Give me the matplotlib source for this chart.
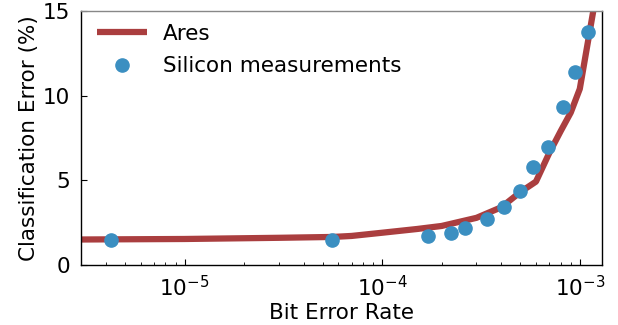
import matplotlib
matplotlib.use('Agg')
import matplotlib.pyplot as plt

'''Classification error vs bit error rate: Ares model curve and silicon measurements.'''

# ------------ data ---------------

ares_ber = [3.0e-6, 1.0e-5, 3.0e-5, 5.6e-5, 7.0e-5, 1.0e-4, 1.5e-4, 2.0e-4,
            3.0e-4, 4.0e-4, 5.0e-4, 6.0e-4, 7.0e-4, 8.0e-4, 9.0e-4, 1.0e-3,
            1.17e-3, 1.2e-3]
ares_err = [1.50, 1.53, 1.60, 1.65, 1.71, 1.90, 2.12, 2.30,
            2.78, 3.40, 4.30, 4.92, 6.60, 7.90, 9.00, 10.40,
            15.0, 15.9]

silicon_ber = [4.24e-6, 5.59e-5, 1.70e-4, 2.24e-4, 2.61e-4, 3.39e-4, 4.15e-4,
               4.96e-4, 5.83e-4, 6.92e-4, 8.18e-4, 9.43e-4, 1.106e-3]
silicon_err = [1.49, 1.49, 1.73, 1.91, 2.19, 2.73, 3.43,
               4.35, 5.81, 6.99, 9.31, 11.42, 13.74]

y_ticks = [0, 5, 10, 15]

ARES_RED = '#aa3e3f'
SILICON_BLUE = '#3b8fc1'
FS = 15.5


# ----------------- plot --------------------

plt.rcParams['font.family'] = 'DejaVu Sans'
plt.rcParams['font.size'] = FS

fig = plt.figure(figsize=(6.18, 3.25), dpi=100)
ax = fig.add_axes([0.1316, 0.185, 0.843, 0.781])

ax.plot(ares_ber, ares_err, color=ARES_RED, linewidth=4.5,
        solid_capstyle='butt', label='Ares', zorder=2)
ax.plot(silicon_ber, silicon_err, linestyle='none', marker='o',
        markersize=9.5, color=SILICON_BLUE, label='Silicon measurements', zorder=3)

ax.set_xscale('log')
ax.set_xlim(3.0e-6, 1.3e-3)
ax.set_ylim(0, 15)
ax.set_yticks(y_ticks)

ax.set_xlabel('Bit Error Rate', fontsize=FS, labelpad=2)
ax.set_ylabel('Classification Error (%)', fontsize=FS, labelpad=3)

# inward ticks, bottom/left only
ax.tick_params(axis='both', which='major', direction='in', length=4,
               width=0.8, labelsize=FS, top=False, right=False)
ax.tick_params(axis='x', which='major', pad=7)
ax.tick_params(axis='y', which='major', pad=8)
ax.tick_params(axis='x', which='minor', direction='in', length=2.5,
               width=0.6, top=False)
ax.tick_params(axis='y', which='minor', left=False, right=False)

for side in ['left', 'bottom', 'right']:
    ax.spines[side].set_color('black')
    ax.spines[side].set_linewidth(1.0)
ax.spines['top'].set_color('#888888')
ax.spines['top'].set_linewidth(1.0)

ax.legend(loc='upper left', bbox_to_anchor=(0.0115, 0.989), frameon=False,
          fontsize=FS, handlelength=2.3, labelspacing=0.6, handletextpad=0.75,
          borderaxespad=0.2, borderpad=0.25)

fig.savefig('out.png', dpi=100)
